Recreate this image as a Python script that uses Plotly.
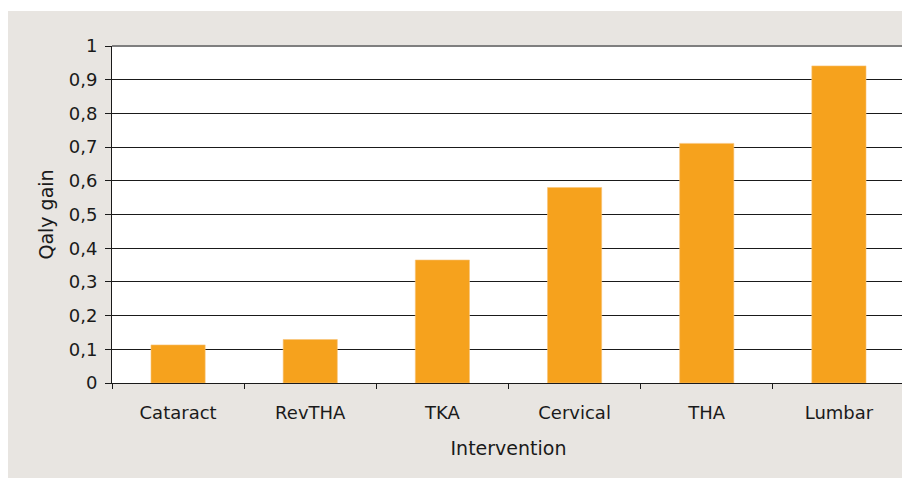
import plotly.graph_objects as go

categories = ["Cataract", "RevTHA", "TKA", "Cervical", "THA", "Lumbar"]
qaly_gain = [0.113, 0.129, 0.365, 0.580, 0.711, 0.941]
y_tick_vals = [0, 0.1, 0.2, 0.3, 0.4, 0.5, 0.6, 0.7, 0.8, 0.9, 1]
y_tick_text = ["0", "0,1", "0,2", "0,3", "0,4", "0,5", "0,6", "0,7", "0,8", "0,9", "1"]

# the page body adds an 8px margin, so the figure is 8px smaller than the window
W, H = 902, 470
ML, MR, MT, MB = 104, 5, 38, 95
pw = W - ML - MR
ph = H - MT - MB

def px_y(p):
    return (H - MB - p) / ph

def px_x(p):
    return (p - ML) / pw

FONT = "DejaVu Sans, Verdana, sans-serif"
BG = "#e8e5e1"

fig = go.Figure(go.Bar(
    x=categories, y=qaly_gain,
    marker=dict(color="#f6a21d", line=dict(color="#f9c57a", width=0.6)),
    width=0.41,
))

fig.update_layout(
    width=W, height=H,
    margin=dict(l=ML, r=MR, t=MT, b=MB, pad=0),
    paper_bgcolor=BG, plot_bgcolor="white",
    showlegend=False,
    separators=", ",
    font=dict(family=FONT, size=18, color="#1a1a1a"),
    xaxis=dict(
        showline=True, linecolor="#1a1a1a", linewidth=1,
        ticks="outside", ticklen=5, tickcolor="#1a1a1a", tickson="boundaries",
        showgrid=False,
        tickfont=dict(size=18),
        ticklabelstandoff=13,
        title=dict(text="Intervention", font=dict(size=19), standoff=20),
    ),
    yaxis=dict(
        range=[0, 1], tickvals=y_tick_vals, ticktext=y_tick_text,
        showline=True, linecolor="#1a1a1a", linewidth=1,
        ticks="outside", ticklen=6, tickcolor="#1a1a1a",
        showgrid=True, gridcolor="#1a1a1a", gridwidth=1,
        zeroline=False,
        tickfont=dict(size=18),
        ticklabelstandoff=4,
        title=dict(text="Qaly gain", font=dict(size=19), standoff=10),
    ),
    shapes=[
        # thin white strip above the grey panel
        dict(type="rect", xref="paper", yref="paper", layer="below",
             x0=px_x(0), x1=px_x(W), y0=px_y(3), y1=px_y(0),
             fillcolor="white", line=dict(width=0)),
        # grey top/right plot border
        dict(type="line", xref="paper", yref="paper", layer="above",
             x0=0, x1=1, y0=1, y1=1, line=dict(color="#7f7f7f", width=2)),
        dict(type="line", xref="paper", yref="paper", layer="above",
             x0=1, x1=1, y0=0, y1=1, line=dict(color="#7f7f7f", width=2)),
    ],
)

fig.write_html("out.html")
